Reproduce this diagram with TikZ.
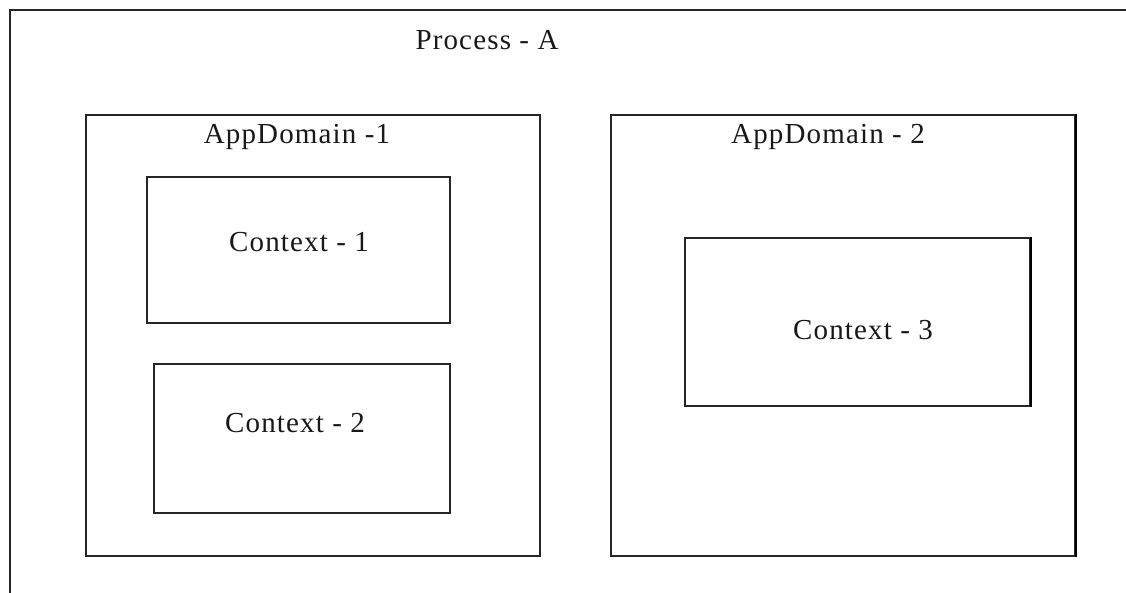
\documentclass[tikz,border=0pt]{standalone}
\usepackage{fontspec}
\setmainfont{Liberation Serif}
\newfontfamily\boxfont[LetterSpace=4]{Liberation Serif}
\begin{document}
\begin{tikzpicture}[x=1pt,y=-1pt,
  frame/.style={draw=black!85,line width=1.4pt,rectangle,inner sep=0pt},
  heavyside/.style={draw=black,line width=2.4pt},
  lbl/.style={inner sep=0pt,font=\boxfont\fontsize{29}{34}\selectfont,text=black!90}]
\useasboundingbox (0,0) rectangle (1126,592);
\clip (0,0) rectangle (1126,592);
\fill[white] (0,0) rectangle (1126,592);

% process boundary, running off the right and bottom edges
\node[frame,line width=1.8pt,anchor=north west,minimum width=1140pt,minimum height=600pt] (proc) at (9,9) {};
\node[lbl] (proclbl) at (487,40) {Process - A};

% application domains
\node[frame,minimum width=454pt,minimum height=441pt] (ad1) at (313,335.5) {};
\node[frame,minimum width=464pt,minimum height=441pt] (ad2) at (843,335.5) {};
\draw[heavyside] (ad2.north east) -- (ad2.south east);
\node[lbl] (ad1lbl) at (297,137) {AppDomain -1};
\node[lbl] (ad2lbl) at (828,137) {AppDomain - 2};

% contexts
\node[frame,minimum width=303pt,minimum height=146pt] (c1) at (298.5,250) {};
\node[frame,minimum width=296pt,minimum height=149pt] (c2) at (302,438.5) {};
\node[frame,minimum width=345pt,minimum height=168pt] (c3) at (857.5,322) {};
\draw[heavyside] (c3.north east) -- (c3.south east);
\node[lbl] (c1lbl) at (299,242) {Context - 1};
\node[lbl] (c2lbl) at (295,423) {Context - 2};
\node[lbl] (c3lbl) at (863,330) {Context - 3};
\end{tikzpicture}
\end{document}
